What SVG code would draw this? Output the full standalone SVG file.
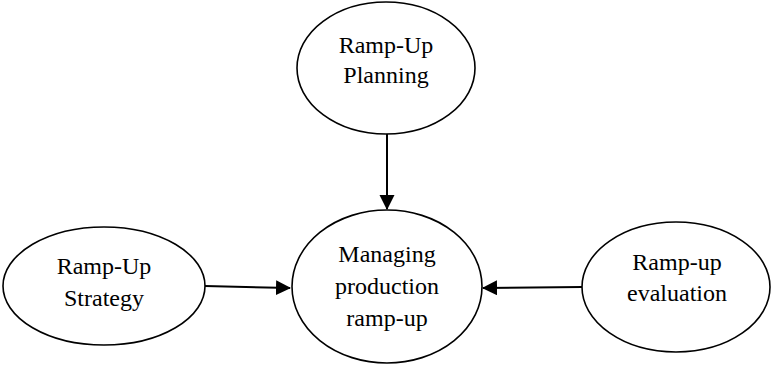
<svg xmlns="http://www.w3.org/2000/svg" width="772" height="365" viewBox="0 0 772 365">
  <style>
    .node ellipse { fill: #ffffff; stroke: #000000; stroke-width: 1.6; }
    .node text { font-family: "Liberation Serif", "Times New Roman", serif; font-size: 24px; fill: #000000; text-anchor: middle; }
    .edge { stroke: #000000; stroke-width: 2; fill: none; marker-end: url(#arrow); }
  </style>
  <defs>
    <marker id="arrow" markerWidth="16" markerHeight="16" refX="14" refY="7.5" orient="auto" markerUnits="userSpaceOnUse">
      <path d="M0,0 L15,7.5 L0,15 Z" fill="#000000"/>
    </marker>
  </defs>
  <rect width="772" height="365" fill="#ffffff"/>

  <g id="connectors">
    <line class="edge" x1="387" y1="134" x2="387" y2="209"/>
    <line class="edge" x1="205" y1="286" x2="290" y2="288"/>
    <line class="edge" x1="582" y1="287" x2="483" y2="288"/>
  </g>

  <g id="planning" class="node">
    <ellipse cx="386" cy="68" rx="89" ry="66"/>
    <text x="386" y="53">Ramp-Up</text>
    <text x="386" y="83">Planning</text>
  </g>

  <g id="managing" class="node">
    <ellipse cx="387" cy="286.5" rx="95" ry="76.5"/>
    <text x="387" y="262">Managing</text>
    <text x="387" y="294">production</text>
    <text x="387" y="326">ramp-up</text>
  </g>

  <g id="strategy" class="node">
    <ellipse cx="104" cy="286" rx="101" ry="59"/>
    <text x="104" y="274">Ramp-Up</text>
    <text x="104" y="306">Strategy</text>
  </g>

  <g id="evaluation" class="node">
    <ellipse cx="676" cy="287" rx="94" ry="65"/>
    <text x="677" y="270">Ramp-up</text>
    <text x="677" y="301">evaluation</text>
  </g>
</svg>
